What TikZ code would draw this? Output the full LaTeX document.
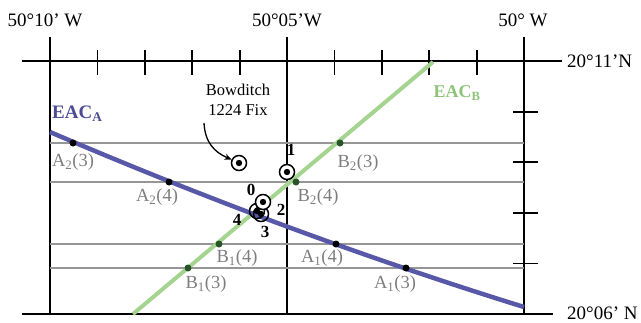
\documentclass[tikz,border=0pt]{standalone}
\usepackage{fontspec}
\setmainfont{Liberation Serif}
\usetikzlibrary{arrows.meta}
\definecolor{eacA}{RGB}{88,88,168}
\definecolor{eacAtxt}{RGB}{75,75,150}
\definecolor{eacB}{RGB}{165,212,145}
\definecolor{eacBtxt}{RGB}{140,195,120}
\definecolor{gridgray}{RGB}{150,150,150}
\definecolor{labgray}{RGB}{125,125,125}
\definecolor{dotgreen}{RGB}{40,85,40}
\begin{document}
\begin{tikzpicture}[x=1pt,y=-1pt,
  axis/.style={line width=1.6pt,black},
  tickmark/.style={line width=1.8pt,black},
  hline/.style={line width=2pt,gridgray},
  axlabel/.style={font=\fontsize{19}{19}\selectfont,inner sep=0},
  ptlabel/.style={font=\fontsize{18.5}{18.5}\selectfont,text=labgray,inner sep=0},
  fixnum/.style={font=\bfseries\fontsize{17}{17}\selectfont,inner sep=0},
  dotA/.style={circle,fill=black,inner sep=0,minimum size=7pt},
  dotB/.style={circle,fill=dotgreen,inner sep=0,minimum size=7pt},
  fixmark/.style={circle,draw=black,line width=1.5pt,fill=white,minimum size=15pt,inner sep=0,
    path picture={\fill[black] (path picture bounding box.center) circle (3.2pt);}},
  fixopen/.style={fixmark,fill=none}
]
\useasboundingbox (0,0) rectangle (641,322);
% axes
\draw[axis] (22,61) -- (562,61);
\draw[axis] (22,314) -- (553,314);
\draw[axis] (50,37) -- (50,314);
\draw[axis] (287,37) -- (287,314);
\draw[axis] (524,37) -- (524,314);
\foreach \i in {1,2,3,4,6,7,8,9} \draw[tickmark] ({50+47.4*\i},50) -- ++(0,25);
\foreach \j in {1,2,3,4} \draw[tickmark] (513,{61+50.6*\j}) -- ++(25,0);
% gray lines
\foreach \yy in {143,182,244,268} \draw[hline] (50,\yy) -- (524,\yy);
% EAC lines
\draw[line width=4pt,eacB] (133,314) -- (433,62);
\draw[line width=4.5pt,eacA] (50,132) .. controls (211,201) and (369,259) .. (524,307);
% dots
\node[dotA] (a23) at (73,143) {};
\node[dotA] (a24) at (169,182) {};
\node[dotA] (a14) at (336,244) {};
\node[dotA] (a13) at (406,268) {};
\node[dotB] (b23) at (340,143) {};
\node[dotB] (b24) at (296,182) {};
\node[dotB] (b14) at (219,244) {};
\node[dotB] (b13) at (188,268) {};
% point labels
\node[ptlabel] (la23) at (73,162) {A\textsubscript{2}(3)};
\node[ptlabel] (la24) at (157,197) {A\textsubscript{2}(4)};
\node[ptlabel] (lb23) at (358,163) {B\textsubscript{2}(3)};
\node[ptlabel] (lb24) at (318,197) {B\textsubscript{2}(4)};
\node[ptlabel] (la14) at (322,258) {A\textsubscript{1}(4)};
\node[ptlabel] (lb14) at (237,258) {B\textsubscript{1}(4)};
\node[ptlabel] (lb13) at (206,284) {B\textsubscript{1}(3)};
\node[ptlabel] (la13) at (395,284) {A\textsubscript{1}(3)};
% EAC labels
\node[font=\bfseries\fontsize{19}{19}\selectfont,text=eacAtxt,anchor=west,inner sep=0] (eaca) at (52,114) {EAC\textsubscript{A}};
\node[font=\bfseries\fontsize{18}{18}\selectfont,text=eacBtxt,inner sep=0] (eacb) at (457,93) {EAC\textsubscript{B}};
% fixes
\node[fixmark] (bfix) at (239,163) {};
\node[fixmark] (f1) at (287,172) {};
\node[fixopen] (f4) at (257,211) {};
\node[fixopen] (f3) at (261,214) {};
\node[fixmark] (f0) at (263,202) {};
\node[fixnum] (n1) at (291,150) {1};
\node[fixnum] (n0) at (251,190) {0};
\node[fixnum] (n2) at (281,210) {2};
\node[fixnum] (n4) at (237,220) {4};
\node[fixnum] (n3) at (265,232) {3};
% Bowditch label and arrow
\node[font=\fontsize{16.5}{20}\selectfont,align=center,inner sep=0] (bow) at (238,100) {Bowditch\\1224 Fix};
\coordinate (bstart) at (204,123);
\draw[line width=1.3pt,-{Stealth[length=7pt,width=6pt]}] (bstart) .. controls (205,142) and (214,152) .. (bfix.155);
% axis labels
\node[axlabel] (lw10) at (45,20) {50°10’ W};
\node[axlabel] (lw05) at (287,20) {50°05’W};
\node[axlabel] (lw00) at (523,20) {50° W};
\node[axlabel,anchor=west] (ln11) at (567,61) {20°11’N};
\node[axlabel,anchor=west] (ln06) at (567,313) {20°06’ N};
\end{tikzpicture}
\end{document}
